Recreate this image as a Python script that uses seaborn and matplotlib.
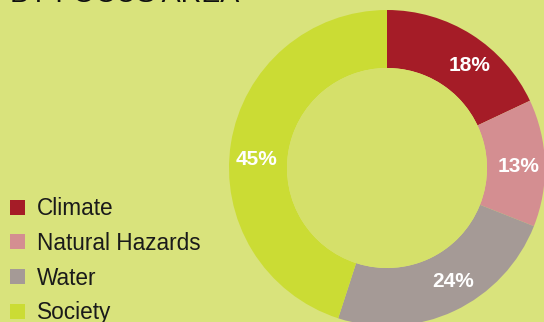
import matplotlib
matplotlib.use('Agg')
import numpy as np
import matplotlib.pyplot as plt
from matplotlib.patches import Circle
import seaborn as sns

# data
areas = ['Climate', 'Natural Hazards', 'Water', 'Society']
shares = [18, 13, 24, 45]
colors = ['#a51c27', '#d48e91', '#a59a96', '#cbdc34']

bg = '#d9e37c'
hole = '#d5e06a'

sns.set_style('white')
plt.rcParams['font.family'] = ['Liberation Sans', 'DejaVu Sans']

fig = plt.figure(figsize=(5.44, 3.22), dpi=100, facecolor=bg)

# donut: centre ~(387,168) px, outer radius ~158 px
W, H = 544, 322
r_px = 158
ax = fig.add_axes([(387 - r_px) / W, (H - 168 - r_px) / H, 2 * r_px / W, 2 * r_px / H])
ax.set_facecolor('none')

wedges, _, pct = ax.pie(shares, colors=colors, startangle=90, counterclock=False,
                        radius=1, autopct=lambda p: f'{p:.0f}%', pctdistance=0.83,
                        wedgeprops=dict(width=0.367, linewidth=0),
                        textprops=dict(color='white', fontsize=15, fontweight='bold'))
ax.add_patch(Circle((0, 0), 0.633, color=hole, linewidth=0))

# the labels in the original are hand placed a little off the slice middles
nudge_deg = [-6.5, -1, 5, 5.4]
for t, d in zip(pct, nudge_deg):
    x, y = t.get_position()
    a = np.deg2rad(d)
    t.set_position((x * np.cos(a) - y * np.sin(a), x * np.sin(a) + y * np.cos(a)))

ax.set_xlim(-1, 1)
ax.set_ylim(-1, 1)
ax.set_aspect('equal')
ax.axis('off')

# legend
fig.legend(wedges, areas, loc='upper left', bbox_to_anchor=(1 / W, 1 - 188 / H),
           frameon=False, fontsize=16.3, handlelength=0.65, handleheight=0.65,
           handletextpad=0.55, labelspacing=0.52, borderaxespad=0,
           labelcolor='#1a1a1a')

# title, mostly cut off at the top edge
fig.text(10 / W, 1 - 1.5 / H, 'BY FOCUS AREA', fontsize=20.5, va='baseline',
         ha='left', color='#111111')

fig.savefig('out.png', dpi=100, facecolor=bg)
